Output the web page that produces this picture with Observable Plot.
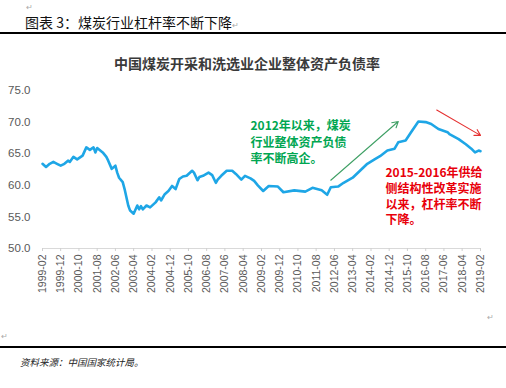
<!DOCTYPE html>
<html><head><meta charset="utf-8">
<script src="https://cdn.jsdelivr.net/npm/d3@7"></script>
<script src="https://cdn.jsdelivr.net/npm/@observablehq/plot@0.6"></script>
<style>
body{margin:0;background:#fff;width:506px;height:388px;position:relative;overflow:hidden;font-family:"Noto Sans CJK SC",sans-serif}
.abs{position:absolute;white-space:nowrap}
.pm{color:#aaa;font-size:8px;line-height:10px}
</style></head><body>
<div class="abs pm" style="left:26px;top:2px">↵</div>
<div class="abs" style="left:25px;top:12px;font-size:14px;color:#111">图表 3：煤炭行业杠杆率不断下降<span class="pm">↵</span></div>
<div class="abs" style="left:0;top:32px;width:506px;height:1.5px;background:#000"></div>
<div class="abs" style="left:0;width:494px;top:53px;text-align:center;font-size:14px;font-weight:bold;color:#3a3a3a">中国煤炭开采和洗选业企业整体资产负债率</div>
<div id="chart" class="abs" style="left:0;top:80px"></div>
<div class="abs pm" style="left:487px;top:312px">↵</div>
<div class="abs pm" style="left:1px;top:331px">↵</div>
<div class="abs" style="left:0;top:346px;width:506px;height:1.5px;background:#000"></div>
<div class="abs" style="left:20px;top:355px;font-size:9.5px;font-style:italic;color:#222">资料来源：中国国家统计局。</div>
<script>
const months = ["1999-02","1999-04","1999-06","1999-08","1999-10","1999-12","2000-02","2000-04","2000-05","2000-07","2000-09","2000-12","2001-02","2001-04","2001-06","2001-07","2001-08","2001-11","2002-01","2002-02","2002-04","2002-06","2002-07","2002-08","2002-10","2002-11","2003-01","2003-02","2003-04","2003-06","2003-07","2003-08","2003-09","2003-11","2004-01","2004-04","2004-06","2004-07","2004-09","2004-11","2005-01","2005-03","2005-05","2005-07","2005-09","2005-12","2006-01","2006-03","2006-04","2006-06","2006-09","2006-11","2007-01","2007-02","2007-04","2007-07","2007-10","2007-12","2008-03","2008-05","2008-08","2008-10","2008-12","2009-03","2009-06","2009-11","2010-02","2010-08","2011-02","2011-06","2011-11","2012-02","2012-04","2012-08","2012-11","2013-04","2013-08","2013-12","2014-04","2014-07","2014-11","2015-03","2015-05","2015-09","2015-12","2016-04","2016-08","2016-11","2017-03","2017-08","2017-09","2018-02","2018-06","2018-09","2018-11","2019-01","2019-02"];
const values = [63.4,62.9,63.4,63.7,63.4,63.1,63.4,63.9,63.7,64.5,64.1,64.7,66.0,65.6,66.0,65.2,65.9,65.2,64.5,63.9,62.6,63.1,62.0,61.2,60.5,59.4,56.8,56.0,55.5,56.8,56.2,56.7,56.2,56.8,56.5,57.3,58.1,57.6,58.6,59.1,59.9,59.4,61.0,61.4,61.5,62.3,62.0,60.8,61.3,61.5,62.0,61.6,60.4,60.9,61.5,62.3,62.3,61.8,60.9,61.5,61.1,60.7,60.0,59.1,59.9,59.8,58.9,59.2,59.0,59.6,59.2,58.5,59.7,59.8,60.4,61.2,62.3,63.4,64.1,64.6,65.5,65.8,66.8,67.1,68.4,70.1,70.0,69.7,68.9,68.4,68.1,67.3,66.5,65.8,65.2,65.5,65.4];
const xTickLabels = ["1999-02","1999-12","2000-10","2001-08","2002-06","2003-04","2004-02","2004-12","2005-10","2006-08","2007-06","2008-04","2009-02","2009-12","2010-10","2011-08","2012-06","2013-04","2014-02","2014-12","2015-10","2016-08","2017-06","2018-04","2019-02"];
const yTicks = [50,55,60,65,70,75];
const noteGreen = "2012年以来，煤炭\n行业整体资产负债\n率不断高企。";
const noteRed = "2015-2016年供给\n侧结构性改革实施\n以来，杠杆率不断\n下降。";

const parse = d3.utcParse("%Y-%m");
const data = months.map((m, i) => ({date: parse(m), value: values[i]}));
const greenNote = [{date: parse("2008-08"), value: 70.6, text: noteGreen}];
const redNote = [{date: parse("2014-10"), value: 63.0, text: noteRed}];
const arrows = [
  {d1: parse("2012-04"), v1: 60.8, d2: parse("2015-05"), v2: 70.1, color: "#3fa065"},
  {d1: parse("2017-02"), v1: 71.9, d2: parse("2019-02"), v2: 67.9, color: "#e53030"}
];
const noteStyle = {x: "date", y: "value", text: "text", textAnchor: "start", lineAnchor: "top",
  fontSize: 12, fontWeight: "bold", fontFamily: "'Noto Sans CJK SC', sans-serif"};

const chart = Plot.plot({
  width: 506, height: 240,
  marginTop: 10, marginBottom: 72, marginLeft: 42, marginRight: 26,
  style: {fontFamily: "'Liberation Sans', Arial, sans-serif", background: "transparent"},
  x: {type: "utc", domain: [parse("1999-02"), parse("2019-02")]},
  y: {domain: [50, 75]},
  marks: [
    Plot.ruleY([50], {stroke: "#d9d9d9"}),
    Plot.axisX({ticks: xTickLabels.map(parse), tickFormat: d3.utcFormat("%Y-%m"), tickRotate: -90,
      tickSize: 3, tickPadding: 3, stroke: "#d0d0d0", fill: "#595959", fontSize: 10.5, label: null}),
    Plot.axisY({ticks: yTicks, tickFormat: d => d.toFixed(1), tickSize: 0, tickPadding: 12,
      fill: "#595959", fontSize: 11.5, label: null}),
    Plot.line(data, {x: "date", y: "value", stroke: "#1ea6e6", strokeWidth: 2.6}),
    Plot.arrow(arrows, {x1: "d1", y1: "v1", x2: "d2", y2: "v2", stroke: "color", strokeWidth: 1.1, headLength: 9}),
    Plot.text(greenNote, {...noteStyle, fill: "#00a651", lineHeight: 1.38}),
    Plot.text(redNote, {...noteStyle, fill: "#e8000b", lineHeight: 1.3})
  ]
});
document.getElementById("chart").appendChild(chart);
</script>
</body></html>
